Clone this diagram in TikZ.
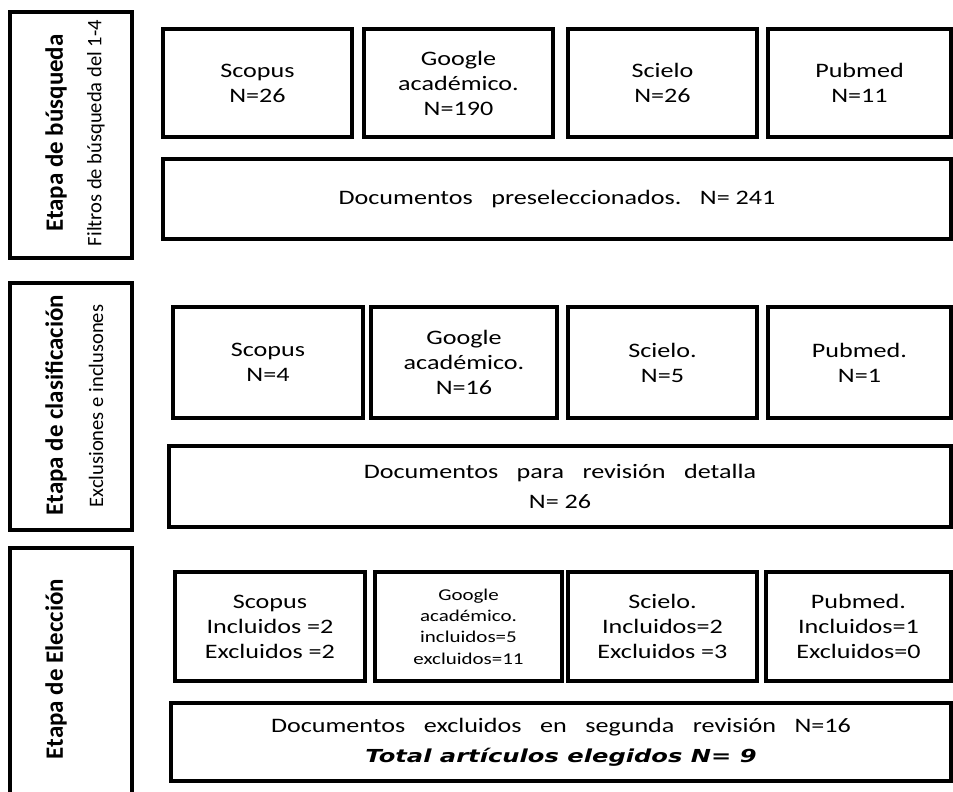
\documentclass[tikz,border=0pt]{standalone}
\usepackage{fontspec}
\usepackage{tikz}
\usepackage{xcolor}
\setmainfont{Carlito}
\newfontfamily\boxfont[FakeStretch=1.27]{Carlito}
\newfontfamily\totalfont[FakeStretch=1.35]{DejaVu Sans}
\newcommand{\gap}{\hspace{0.9em}}

\tikzset{
    box/.style 2 args={draw, line width=1.8pt, minimum width=#1*0.02cm, minimum height=#2*0.02cm,
        inner sep=0pt, align=center, font=\boxfont\fontsize{11.7}{14.2}\selectfont},
    etapa/.style={rotate=90, inner sep=0pt, font=\bfseries\fontsize{14.2}{17}\selectfont},
    filtro/.style={rotate=90, inner sep=0pt, font=\fontsize{11.7}{14}\selectfont}
}

\begin{document}
\begin{tikzpicture}[x=0.02cm, y=-0.02cm]
    \useasboundingbox (0,0) rectangle (953,791);

    % Etapa de busqueda
    \node[box={122}{246}] (busqueda) at (71,135) {};
    \node[etapa] (busquedaT) at (56,133) {Etapa de búsqueda};
    \node[filtro] (busquedaF) at (96,133) {Filtros de búsqueda del 1-4};
    \node[box={189}{108}] (scopusA) at (257.5,83) {Scopus\\N=26};
    \node[box={189}{108}] (googleA) at (458.5,83) {Google\\académico.\\N=190};
    \node[box={189}{108}] (scieloA) at (662.5,83) {Scielo\\N=26};
    \node[box={183}{108}] (pubmedA) at (859.5,83) {Pubmed\\N=11};
    \node[box={788}{80}] (docsA) at (557,199)
        {Documentos\gap preseleccionados.\gap N= 241};

    % Etapa de clasificacion
    \node[box={122}{247}] (clasif) at (71,406.5) {};
    \node[etapa] (clasifT) at (56,405) {Etapa de clasificación};
    \node[filtro] (clasifF) at (96,406) {Exclusiones e inclusones};
    \node[box={190}{111}] (scopusB) at (268,362.5) {Scopus\\N=4};
    \node[box={186}{111}] (googleB) at (464,362.5) {Google\\académico.\\N=16};
    \node[box={189}{111}] (scieloB) at (662.5,362.5) {Scielo.\\N=5};
    \node[box={183}{111}] (pubmedB) at (859.5,362.5) {Pubmed.\\N=1};
    \node[box={782}{81}, font=\boxfont\fontsize{11.7}{17}\selectfont] (docsB) at (560,486.5)
        {Documentos\gap para\gap revisión\gap detalla\\N= 26};

    % Etapa de eleccion
    \node[box={122}{252}] (eleccion) at (71,674) {};
    \node[etapa] (eleccionT) at (56,669) {Etapa de Elección};
    \node[box={190}{109}] (scopusC) at (270,626.5) {Scopus\\Incluidos =2\\Excluidos =2};
    \node[box={187}{109}, font=\boxfont\fontsize{9.4}{12.2}\selectfont] (googleC) at (468.5,626.5)
        {Google\\académico.\\incluidos=5\\excluidos=11};
    \node[box={189}{109}] (scieloC) at (662.5,626.5) {Scielo.\\Incluidos=2\\Excluidos =3};
    \node[box={185}{109}] (pubmedC) at (858.5,626.5) {Pubmed.\\Incluidos=1\\Excluidos=0};
    \node[box={780}{78}, font=\boxfont\fontsize{11.7}{17}\selectfont] (docsC) at (561,742)
        {Documentos\gap excluidos\gap en\gap segunda\gap revisión\gap N=16\\
        {\totalfont\bfseries\itshape\fontsize{10.2}{12}\selectfont Total artículos elegidos N= 9}};
\end{tikzpicture}
\end{document}
